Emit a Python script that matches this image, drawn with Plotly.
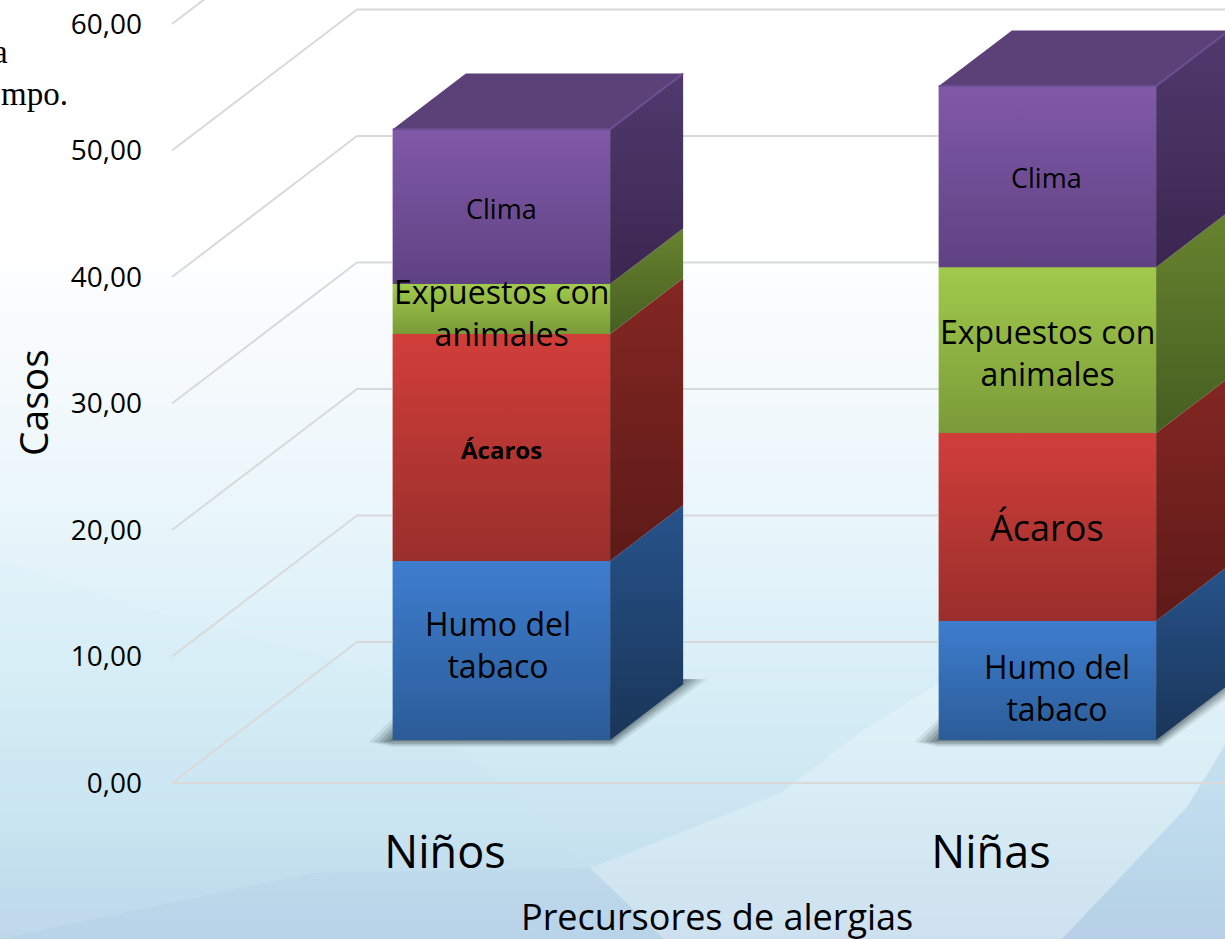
import plotly.graph_objects as go
import numpy as np

W, H = 1225, 939

# ---- data ----
categories = ["Niños", "Niñas"]
series_names = ["Humo del tabaco", "Ácaros", "Expuestos con animales", "Clima"]
humo = [14.15, 9.40]
acaros = [17.94, 14.86]
expuestos = [3.95, 13.12]
clima = [12.25, 14.31]
y_ticks = [0, 10, 20, 30, 40, 50, 60]
y_tick_labels = ["0,00", "10,00", "20,00", "30,00", "40,00", "50,00", "60,00"]

# ---- styling / projection ----
X0, UX = 445.0, 546.0       # px of category 0, px per category
Y0, UY = 783.0, 12.65       # px of value 0, px per value
FONT = "Open Sans"
DX, DY = 185.0 / UX, 141.0 / UY    # oblique offset of the full chart depth
BAR_W = 0.398
D_FRONT, D_BACK = 0.305, 0.70

# colours: (front top, front bottom, side top, side bottom)
palette = [
    ("#3e7dce", "#2b5c98", "#27538b", "#1a3558"),
    ("#d13e3a", "#992e2b", "#842723", "#5d1a18"),
    ("#a1ca4b", "#7a9a38", "#68842f", "#455e21"),
    ("#8059a9", "#5f4282", "#503a6e", "#3b2650"),
]
top_face_color = "#5c4178"
top_edge_color = "#6d4f93"


def px_x(p):
    return (p - X0) / UX


def px_y(p):
    return (Y0 - p) / UY


def proj(x, v, d):
    return x + d * DX, v + d * DY


fig = go.Figure()

# ---- page background ----
bg_px = [0, 240, 300, 400, 500, 600, 700, 800, 880, 939]
bg_col = ["#ffffff", "#ffffff", "#fafcfe", "#f3f9fc", "#eaf6fb", "#e0f2f9", "#d6edf6", "#cce7f2", "#c3deed", "#bfd7ea"]
fig.add_trace(go.Heatmap(
    x=[px_x(-5), px_x(W + 5)],
    y=[px_y(p) for p in bg_px],
    z=[[p, p] for p in bg_px],
    zmin=0, zmax=939,
    colorscale=[[p / 939, c] for p, c in zip(bg_px, bg_col)],
    zsmooth="best", showscale=False, hoverinfo="skip",
))

facets = [
    ([590, 781, 859, 1040, 1225, 1225, 1187, 1062, 664], [868, 793, 733, 620, 560, 745, 807, 939, 939], "rgba(255,255,255,0.24)"),
    ([0, 312, 590, 664, 0], [939, 873, 868, 939, 939], "rgba(140,175,220,0.10)"),
    ([1062, 1187, 1225, 1225], [939, 807, 745, 939], "rgba(130,165,215,0.14)"),
    ([0, 150, 380, 590, 312, 0], [560, 610, 670, 868, 873, 939], "rgba(190,225,240,0.08)"),
]
for fx, fy, fc in facets:
    fig.add_trace(go.Scatter(
        x=[px_x(p) for p in fx] + [px_x(fx[0])],
        y=[px_y(p) for p in fy] + [px_y(fy[0])],
        mode="lines", line_width=0, fill="toself", fillcolor=fc,
        hoverinfo="skip", showlegend=False,
    ))

# ---- walls: gridlines ----
xl, xr = -0.5, 1.5
for t in y_ticks:
    ax, ay = proj(xl, t, 0)
    bx, by = proj(xl, t, 1)
    cx, cy = proj(xr, t, 1)
    fig.add_trace(go.Scatter(
        x=[ax, bx, cx], y=[ay, by, cy], mode="lines",
        line=dict(color="#d9d9d9", width=2),
        hoverinfo="skip", showlegend=False,
    ))
fx, fy = proj(xl, 0, 0)
gx, gy = proj(xr, 0, 0)
fig.add_trace(go.Scatter(x=[fx, gx], y=[fy, gy], mode="lines",
                         line=dict(color="#d9d9d9", width=2),
                         hoverinfo="skip", showlegend=False))

# ---- bars ----
stack = [humo, acaros, expuestos, clima]

# soft shadow on the floor, built from the bar footprint
for c in range(len(categories)):
    flx, fly = proj(c - BAR_W / 2, 0, D_FRONT)
    frx, fry = proj(c + BAR_W / 2, 0, D_FRONT)
    brx, bry = proj(c + BAR_W / 2, 0, D_BACK)
    for g, alpha in [(24, 0.10), (19, 0.14), (14, 0.18), (9, 0.22), (4, 0.26)]:
        gx_, gy_ = g / UX, g / UY
        pts = [
            (flx - gx_, fly - 2 / UY),
            (flx, fly + 0.9 * gy_),
            (brx, bry + 5 / UY),
            (brx + gx_, bry + 5 / UY),
            (frx + 0.2 * gx_, fry - 0.28 * gy_),
            (flx, fly - 0.28 * gy_),
        ]
        fig.add_trace(go.Scatter(
            x=[p[0] for p in pts] + [pts[0][0]], y=[p[1] for p in pts] + [pts[0][1]],
            mode="lines", line_width=0, fill="toself",
            fillcolor=f"rgba(50,65,70,{alpha})",
            hoverinfo="skip", showlegend=False,
        ))

floor_y = D_FRONT * DY
bases = np.zeros(len(categories))
for s, (name, vals) in enumerate(zip(series_names, stack)):
    vals = np.array(vals)
    ctop, cbot, stop, sbot = palette[s]
    fig.add_trace(go.Bar(
        x=[c + D_FRONT * DX for c in range(len(categories))],
        y=vals, base=bases + floor_y, width=BAR_W,
        marker=dict(color=ctop, line_width=0), name=name,
        hoverinfo="skip", showlegend=False,
    ))
    for c in range(len(categories)):
        lo, hi = bases[c], bases[c] + vals[c]
        xa = c - BAR_W / 2
        xb = c + BAR_W / 2
        # side face
        p = [proj(xb, lo, D_FRONT), proj(xb, lo, D_BACK), proj(xb, hi, D_BACK), proj(xb, hi, D_FRONT)]
        fig.add_trace(go.Scatter(
            x=[q[0] for q in p] + [p[0][0]], y=[q[1] for q in p] + [p[0][1]],
            mode="lines", line_width=0, fill="toself",
            fillgradient=dict(type="vertical", colorscale=[[0, sbot], [1, stop]]),
            hoverinfo="skip", showlegend=False,
        ))
        # front face, gradient over the bar
        p = [proj(xa, lo, D_FRONT), proj(xb, lo, D_FRONT), proj(xb, hi, D_FRONT), proj(xa, hi, D_FRONT)]
        fig.add_trace(go.Scatter(
            x=[q[0] for q in p] + [p[0][0]], y=[q[1] for q in p] + [p[0][1]],
            mode="lines", line_width=0, fill="toself",
            fillgradient=dict(type="vertical", colorscale=[[0, cbot], [1, ctop]]),
            hoverinfo="skip", showlegend=False,
        ))
    bases = bases + vals

# top faces with their light bevel edges
for c in range(len(categories)):
    xa, xb = c - BAR_W / 2, c + BAR_W / 2
    t = bases[c]
    p = [proj(xa, t, D_FRONT), proj(xb, t, D_FRONT), proj(xb, t, D_BACK), proj(xa, t, D_BACK)]
    fig.add_trace(go.Scatter(
        x=[q[0] for q in p] + [p[0][0]], y=[q[1] for q in p] + [p[0][1]],
        mode="lines", line_width=0, fill="toself", fillcolor=top_face_color,
        hoverinfo="skip", showlegend=False,
    ))
    e = [p[0], p[1], p[2]]
    fig.add_trace(go.Scatter(
        x=[q[0] for q in e], y=[q[1] for q in e], mode="lines",
        line=dict(color=top_edge_color, width=2),
        hoverinfo="skip", showlegend=False,
    ))

# ---- segment labels ----
labels = [
    (0, "Clima", 27, 501, 208),
    (0, "Expuestos con<br>animales", 32, 501, 312),
    (0, "<b>Ácaros</b>", 24, 501, 449),
    (0, "Humo del<br>tabaco", 32, 498, 644),
    (1, "Clima", 27, 1046, 177),
    (1, "Expuestos con<br>animales", 32, 1047, 352),
    (1, "Ácaros", 36, 1047, 527),
    (1, "Humo del<br>tabaco", 32, 1057, 687),
]
annotations = []
for c, text, size, lx, ly in labels:
    annotations.append(dict(
        x=px_x(lx), y=px_y(ly), xref="x", yref="y",
        text=text, showarrow=False,
        font=dict(family=FONT, size=size, color="#000000"),
        xanchor="center", yanchor="middle", align="center",
    ))

# axis titles
annotations.append(dict(x=px_x(717), y=px_y(916), xref="x", yref="y", text="Precursores de alergias",
                        showarrow=False, xanchor="center", yanchor="middle",
                        font=dict(family=FONT, size=36, color="#000000")))
annotations.append(dict(x=px_x(32), y=px_y(403), xref="x", yref="y", text="Casos", textangle=-90,
                        showarrow=False, xanchor="center", yanchor="middle",
                        font=dict(family=FONT, size=39, color="#000000")))

# fragments of the surrounding slide text
annotations.append(dict(x=10 / W, y=1 - 52 / H, xref="paper", yref="paper", text="a", showarrow=False,
                        xanchor="right", yanchor="middle",
                        font=dict(family="Liberation Serif", size=33, color="#000000")))
annotations.append(dict(x=70 / W, y=1 - 94 / H, xref="paper", yref="paper", text="mpo.", showarrow=False,
                        xanchor="right", yanchor="middle",
                        font=dict(family="Liberation Serif", size=33, color="#000000")))

fig.update_layout(
    width=W, height=H, autosize=False,
    margin=dict(l=0, r=0, t=0, b=0),
    barmode="overlay", showlegend=False,
    paper_bgcolor="#ffffff", plot_bgcolor="#ffffff",
    annotations=annotations,
    xaxis=dict(
        range=[px_x(0), px_x(W)], domain=[0, 1], anchor="free", position=1 - 822 / H,
        tickmode="array", tickvals=list(range(len(categories))), ticktext=categories,
        tickfont=dict(family=FONT, size=45, color="#000000"),
        showgrid=False, zeroline=False, showline=False, ticks="",
        automargin=False,
    ),
    yaxis=dict(
        range=[px_y(H), px_y(0)], domain=[0, 1], anchor="free", position=142 / W,
        tickmode="array", tickvals=y_ticks, ticktext=y_tick_labels,
        tickfont=dict(family=FONT, size=28, color="#000000"),
        showgrid=False, zeroline=False, showline=False, ticks="",
        automargin=False,
    ),
)

fig.write_html("out.html", config={"displayModeBar": False},
               post_script="document.body.style.margin='0';document.body.style.overflow='hidden';")
